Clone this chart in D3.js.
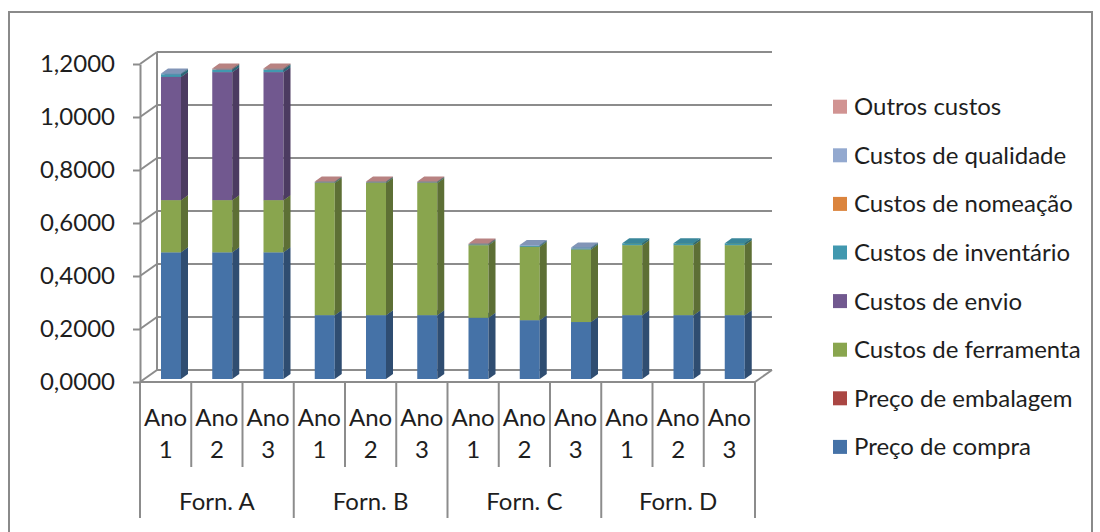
<!DOCTYPE html>
<html>
<head>
<meta charset="utf-8">
<script src="https://cdn.jsdelivr.net/npm/d3@7"></script>
<style>
  html, body { margin: 0; padding: 0; background: #ffffff; }
  svg { display: block; font-family: Lato, "Open Sans", sans-serif; }
</style>
</head>
<body>
<svg id="chart" width="1100" height="532"></svg>
<script>
// Categories: three years for each of four suppliers
const suppliers = ["Forn. A", "Forn. B", "Forn. C", "Forn. D"];
const years = ["1", "2", "3"];
const yearPrefix = "Ano";

// Cost components per category (Forn. A Ano 1 ... Forn. D Ano 3)
const precoCompra      = [0.478, 0.478, 0.478, 0.241, 0.241, 0.241, 0.231, 0.222, 0.215, 0.241, 0.241, 0.241];
const precoEmbalagem   = [0, 0, 0, 0, 0, 0, 0, 0, 0, 0, 0, 0];
const custosFerramenta = [0.197, 0.197, 0.197, 0.499, 0.499, 0.499, 0.274, 0.277, 0.274, 0.264, 0.264, 0.264];
const custosEnvio      = [0.465, 0.483, 0.483, 0, 0, 0, 0, 0, 0, 0, 0, 0];
const custosInventario = [0.010, 0.010, 0.010, 0.002, 0.002, 0.002, 0.003, 0.003, 0.003, 0.007, 0.007, 0.007];
const custosNomeacao   = [0, 0, 0, 0, 0, 0, 0, 0, 0, 0, 0, 0];
const custosQualidade  = [0.003, 0, 0, 0, 0, 0, 0, 0.004, 0.004, 0, 0, 0];
const outrosCustos     = [0, 0.004, 0.004, 0.003, 0.003, 0.003, 0.003, 0, 0, 0, 0, 0];

const yTicks = [0, 0.2, 0.4, 0.6, 0.8, 1.0, 1.2];

const seriesNames = ["Preço de compra", "Preço de embalagem", "Custos de ferramenta", "Custos de envio",
                     "Custos de inventário", "Custos de nomeação", "Custos de qualidade", "Outros custos"];
const seriesValues = [precoCompra, precoEmbalagem, custosFerramenta, custosEnvio,
                      custosInventario, custosNomeacao, custosQualidade, outrosCustos];
const seriesColors = ["#4572A7", "#AA4643", "#89A54E", "#71588F", "#4198AF", "#DB843D", "#93A9CF", "#D19392"];

const categories = [];
suppliers.forEach(s => years.forEach(y => categories.push({ supplier: s, year: y })));

const svg = d3.select("#chart");
const gridColor = "#8c8c8c";
const textColor = "#1e1e1e";
const fontSize = 24;

// Chart area border
svg.append("rect")
  .attr("x", 9).attr("y", 12).attr("width", 1083).attr("height", 530)
  .attr("fill", "none").attr("stroke", "#8a8a8a").attr("stroke-width", 2);

// 3-D plot geometry: front plane plus depth offset to the back wall
const left = 140, right = 755;
const depthX = 17, depthY = -12;
const y = d3.scaleLinear().domain([0, 1.2]).range([382, 64]);
const x = d3.scaleBand().domain(d3.range(categories.length)).range([left, right]).paddingInner(0).paddingOuter(0);

const grid = svg.append("g").attr("stroke", gridColor).attr("stroke-width", 2).attr("fill", "none");

// Back wall gridlines and side wall diagonals
yTicks.forEach(t => {
  grid.append("line")
    .attr("x1", left + depthX).attr("y1", y(t) + depthY)
    .attr("x2", right + depthX).attr("y2", y(t) + depthY);
  grid.append("line")
    .attr("x1", left).attr("y1", y(t))
    .attr("x2", left + depthX).attr("y2", y(t) + depthY);
});
grid.append("line")
  .attr("x1", left + depthX).attr("y1", y(1.2) + depthY)
  .attr("x2", left + depthX).attr("y2", y(0) + depthY);

// Floor front edge and right edge
grid.append("line").attr("x1", left).attr("y1", y(0)).attr("x2", right).attr("y2", y(0));
grid.append("line").attr("x1", right).attr("y1", y(0)).attr("x2", right + depthX).attr("y2", y(0) + depthY);

// Value axis
const ptFormat = d3.formatLocale({ decimal: ",", thousands: ".", grouping: [3], currency: ["", ""] }).format(".4f");
const yAxis = svg.append("g")
  .attr("transform", `translate(${left},0)`)
  .call(d3.axisLeft(y).tickValues(yTicks).tickFormat(ptFormat).tickSizeInner(7).tickSizeOuter(0).tickPadding(18));
yAxis.select(".domain").attr("stroke", gridColor).attr("stroke-width", 2);
yAxis.selectAll(".tick line").attr("stroke", gridColor).attr("stroke-width", 2);
yAxis.selectAll(".tick text")
  .attr("fill", textColor).style("font-size", fontSize + "px").style("font-family", "Lato, sans-serif");

// Stacked 3-D columns
const barOffsetY = -3;   // bars sit slightly behind the front plane
const barInset = 21, barWidth = 20;
const barDX = 7, barDY = -5;
const bars = svg.append("g");

categories.forEach((c, i) => {
  const x0 = x(i) + barInset;
  let base = 0;
  seriesValues.forEach((vals, s) => {
    const v = vals[i];
    if (!(v > 0)) return;
    const yb = y(base) + barOffsetY;
    const yt = y(base + v) + barOffsetY;
    const col = d3.color(seriesColors[s]);
    const side = col.darker(1.1).formatHex();
    const top = col.darker(0.35).formatHex();
    // front face
    bars.append("rect")
      .attr("x", x0).attr("y", yt).attr("width", barWidth).attr("height", Math.max(0.01, yb - yt))
      .attr("fill", col.formatHex());
    // side face
    bars.append("path")
      .attr("d", `M${x0 + barWidth},${yb} L${x0 + barWidth + barDX},${yb + barDY} L${x0 + barWidth + barDX},${yt + barDY} L${x0 + barWidth},${yt} Z`)
      .attr("fill", side);
    // top face
    bars.append("path")
      .attr("d", `M${x0},${yt} L${x0 + barWidth},${yt} L${x0 + barWidth + barDX},${yt + barDY} L${x0 + barDX},${yt + barDY} Z`)
      .attr("fill", top);
    base += v;
  });
});

// Category axis: year labels and supplier groups
const catAxis = svg.append("g");
const bw = x.bandwidth();
d3.range(categories.length + 1).forEach(i => {
  const xx = left + i * bw;
  const isGroup = i % years.length === 0;
  catAxis.append("line")
    .attr("x1", xx).attr("y1", y(0)).attr("x2", xx).attr("y2", isGroup ? 518 : 467)
    .attr("stroke", gridColor).attr("stroke-width", 2);
});
categories.forEach((c, i) => {
  const cx = x(i) + bw / 2;
  catAxis.append("text").attr("x", cx).attr("y", 418).attr("dy", "0.35em")
    .attr("text-anchor", "middle").attr("fill", textColor).style("font-size", fontSize + "px")
    .text(yearPrefix);
  catAxis.append("text").attr("x", cx).attr("y", 450).attr("dy", "0.35em")
    .attr("text-anchor", "middle").attr("fill", textColor).style("font-size", fontSize + "px")
    .text(c.year);
});
suppliers.forEach((s, g) => {
  const cx = left + (g * years.length + years.length / 2) * bw;
  catAxis.append("text").attr("x", cx).attr("y", 502).attr("dy", "0.35em")
    .attr("text-anchor", "middle").attr("fill", textColor).style("font-size", fontSize + "px")
    .text(s);
});

// Legend (reverse order, last series on top)
const legend = svg.append("g");
const legendOrder = d3.range(seriesNames.length).reverse();
legendOrder.forEach((s, k) => {
  const cy = 106.7 + k * 48.6;
  legend.append("rect")
    .attr("x", 833).attr("y", cy - 7).attr("width", 14).attr("height", 14)
    .attr("fill", seriesColors[s]);
  legend.append("text")
    .attr("x", 854).attr("y", cy).attr("dy", "0.35em")
    .attr("fill", textColor).style("font-size", fontSize + "px")
    .text(seriesNames[s]);
});
</script>
</body>
</html>
